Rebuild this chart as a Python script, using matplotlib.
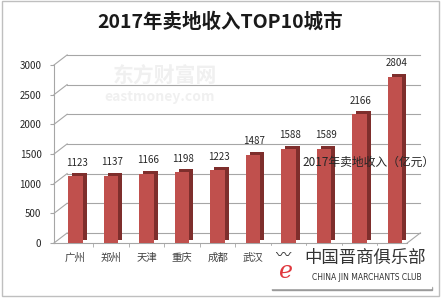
import matplotlib
matplotlib.use('Agg')
import matplotlib.pyplot as plt
import matplotlib.transforms as mtransforms
from matplotlib.patches import Rectangle

plt.rcParams['font.family'] = ['Noto Sans CJK SC', 'DejaVu Sans']

# Données
cities = ['广州', '郑州', '天津', '重庆', '成都', '武汉', '南京', '苏州', '杭州', '北京']
revenue = [1123, 1137, 1166, 1198, 1223, 1487, 1588, 1589, 2166, 2804]
yticks = [0, 500, 1000, 1500, 2000, 2500, 3000]

fig = plt.figure(figsize=(4.41, 2.98), dpi=100)
fig.patch.set_facecolor('white')
fig.patches.append(Rectangle((0.004, 0.008), 0.992, 0.99, transform=fig.transFigure,
                             fill=False, edgecolor='#BFBFBF', lw=1.0))

ax = fig.add_axes([54/441, 55/298, 355/441, 178/298])
x0, x1 = -0.606, 9.39
ax.set_xlim(x0, x1)
ax.set_ylim(0, 3000)
ax.set_facecolor('none')

# faux 3D : décalage du fond
DX, DY = 0.37, 170
xr = 9.34
grid_c = '#A6A6A6'
for v in yticks:
    ax.plot([x0 + DX, xr + DX], [v + DY, v + DY], color=grid_c, lw=0.8,
            clip_on=False, zorder=0)
    ax.plot([x0, x0 + DX], [v, v + DY], color=grid_c, lw=0.8,
            clip_on=False, zorder=0)
ax.plot([x0, xr], [0, 0], color=grid_c, lw=0.8, clip_on=False, zorder=1)
ax.plot([xr, xr + DX], [0, DY], color=grid_c, lw=0.8, clip_on=False, zorder=1)

# barres
xs = list(range(len(cities)))
side = ax.transData + mtransforms.ScaledTranslation(0.04, 0.03, fig.dpi_scale_trans)
ax.bar(xs, revenue, width=0.41, color='#7E2E2C', transform=side, zorder=2)
ax.bar(xs, revenue, width=0.41, color='#C0504D', zorder=3)
for xi, v in zip(xs, revenue):
    ax.annotate(str(v), (xi, v), xytext=(1, 6), textcoords='offset points',
                ha='center', va='bottom', fontsize=7, color='#262626', zorder=4)

# axes
for s in ['top', 'right', 'bottom']:
    ax.spines[s].set_visible(False)
ax.spines['left'].set_color(grid_c)
ax.set_yticks(yticks)
ax.set_yticklabels([str(v) for v in yticks], fontsize=7, color='#262626')
ax.tick_params(axis='y', length=3, color=grid_c, pad=6)
ax.set_xticks(xs)
ax.set_xticklabels(cities, fontsize=7.5, color='#404040')
ax.set_xticks([i + 0.5 for i in range(9)], minor=True)
ax.tick_params(axis='x', which='major', length=0, pad=7)
ax.tick_params(axis='x', which='minor', length=3, color=grid_c)

fig.text(220/441, 1 - 22/298, '2017年卖地收入TOP10城市', ha='center', va='center',
         fontsize=14, fontweight='bold', color='#1a1a1a')
fig.text(302/441, 1 - 162/298, '2017年卖地收入（亿元）', ha='left', va='center',
         fontsize=8.5, color='#262626')

# filigranes
fig.text(165/441, 1 - 76/298, '东方财富网', ha='center', va='center',
         fontsize=15, fontweight='bold', color='#F0F0F0', zorder=0)
fig.text(160/441, 1 - 97/298, 'eastmoney.com', ha='center', va='center',
         fontsize=10, fontweight='bold', color='#F0F0F0', zorder=0)

fig.patches.append(Rectangle((272/441, 1 - 290/298), 160/441, 3/298,
                             transform=fig.transFigure, color='#9A9A9A', zorder=9))
fig.patches.append(Rectangle((270/441, 1 - 288/298), 161/441, 42/298,
                             transform=fig.transFigure, color='white', zorder=10))
fig.text(286/441, 1 - 272/298, 'e', ha='center', va='center', fontsize=17,
         style='italic', color='#E0383E', zorder=11, family='DejaVu Serif')
fig.text(284/441, 1 - 255/298, '〰', ha='center', va='center', fontsize=11,
         color='#333333', zorder=11)
fig.text(365/441, 1 - 258/298, '中国晋商俱乐部', ha='center', va='center',
         fontsize=12.5, color='#333333', zorder=11)
fig.text(367/441, 1 - 278/298, 'CHINA JIN MARCHANTS CLUB', ha='center', va='center',
         fontsize=5.5, color='#333333', zorder=11, family='DejaVu Sans')

plt.savefig('out.png', dpi=100)
